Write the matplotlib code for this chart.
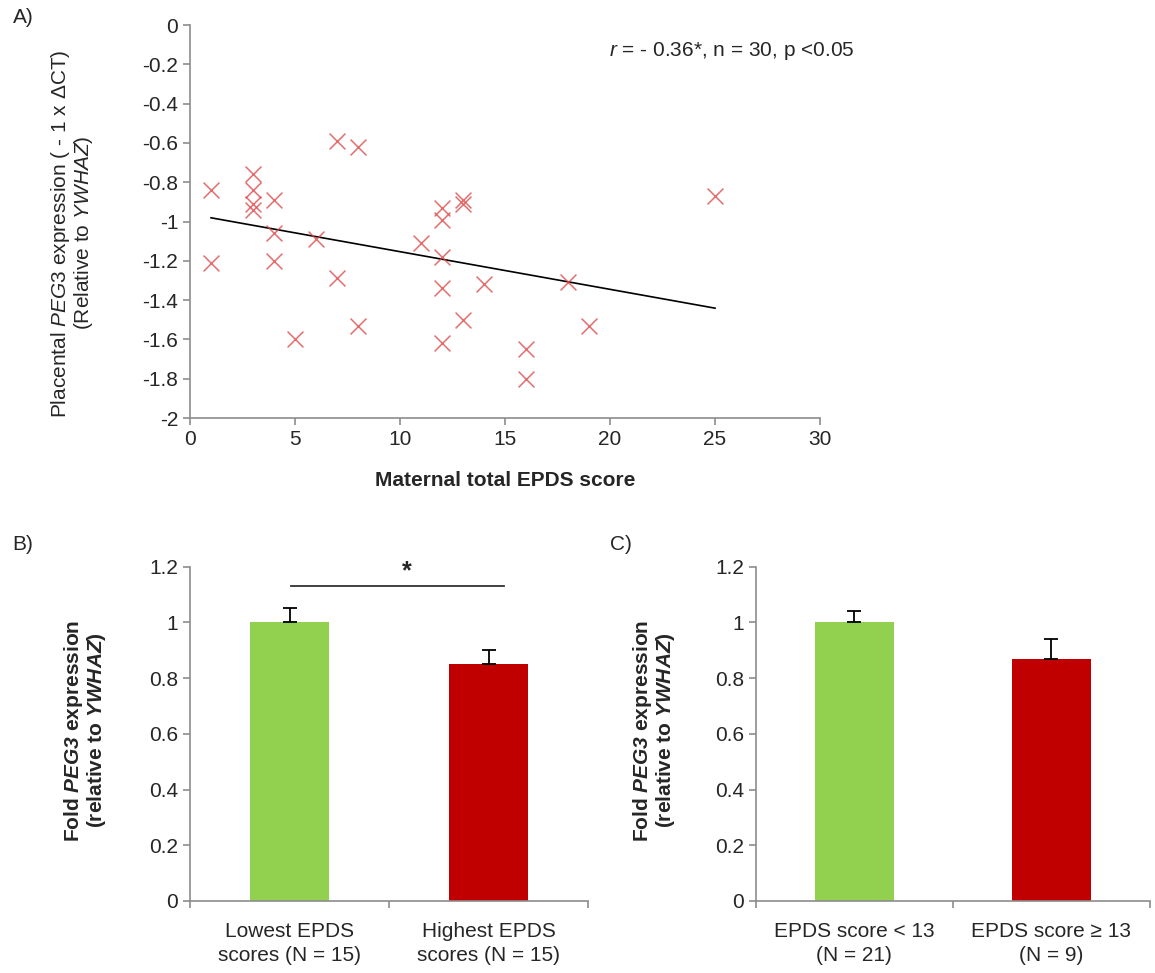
import matplotlib
matplotlib.use("Agg")
import matplotlib.pyplot as plt
import numpy as np

plt.rcParams["font.family"] = ["Liberation Sans", "DejaVu Sans"]
plt.rcParams["mathtext.fontset"] = "custom"
plt.rcParams["mathtext.rm"] = "Liberation Sans"
plt.rcParams["mathtext.it"] = "Liberation Sans:italic"
plt.rcParams["mathtext.bf"] = "Liberation Sans:bold"
plt.rcParams["mathtext.bfit"] = "Liberation Sans:bold:italic"

# Panel A: maternal EPDS score vs placental PEG3 expression
epds = [1, 1, 3, 3, 3, 3, 4, 4, 4, 5, 6, 7, 7, 8, 8,
        11, 12, 12, 12, 12, 12, 13, 13, 13, 14, 16, 16, 18, 19, 25]
peg3 = [-0.84, -1.21, -0.76, -0.84, -0.91, -0.94, -0.89, -1.06, -1.20, -1.60,
        -1.09, -0.59, -1.29, -0.62, -1.53, -1.11, -0.93, -0.99, -1.18, -1.34,
        -1.62, -0.89, -0.91, -1.50, -1.32, -1.65, -1.80, -1.31, -1.53, -0.87]

# Panel B: lowest vs highest EPDS scores
b_labels = ["Lowest EPDS\nscores (N = 15)", "Highest EPDS\nscores (N = 15)"]
b_values = [1.0, 0.85]
b_errors = [0.05, 0.05]

# Panel C: EPDS cut-off of 13
c_labels = ["EPDS score < 13\n(N = 21)", "EPDS score \u2265 13\n(N = 9)"]
c_values = [1.0, 0.87]
c_errors = [0.04, 0.07]

BAR_COLORS = ["#92D050", "#C00000"]
AXIS_GREY = "#8C8C8C"
TEXT = "#262626"
FS = 15


def style_axes(ax):
    for side in ["top", "right"]:
        ax.spines[side].set_visible(False)
    for side in ["left", "bottom"]:
        ax.spines[side].set_color(AXIS_GREY)
        ax.spines[side].set_linewidth(1.2)
    ax.tick_params(colors=AXIS_GREY, labelcolor=TEXT, labelsize=FS,
                   length=5, width=1.2, direction="out")


fig = plt.figure(figsize=(11.55, 9.73), dpi=100)

# ---- A ----
axA = fig.add_axes([0.1645, 0.5704, 0.5455, 0.4039])
axA.scatter(epds, peg3, marker="x", s=130, color="#E04848", alpha=0.8,
            linewidths=1.1, zorder=3)
slope, intercept = np.polyfit(epds, peg3, 1)
xs = np.array([min(epds), max(epds)])
axA.plot(xs, slope * xs + intercept, color="black", linewidth=1.2, zorder=2)
axA.set_xlim(0, 30)
axA.set_ylim(-2, 0)
axA.set_xticks(np.arange(0, 31, 5))
axA.set_yticks(np.arange(-2, 0.01, 0.2))
axA.set_yticklabels(["-2", "-1.8", "-1.6", "-1.4", "-1.2", "-1",
                     "-0.8", "-0.6", "-0.4", "-0.2", "0"])
style_axes(axA)
axA.set_xlabel("Maternal total EPDS score", fontsize=FS, fontweight="bold",
               color=TEXT)
axA.xaxis.set_label_coords(0.5, -0.135)
axA.set_ylabel("Placental $\\mathit{PEG3}$ expression ( - 1 x \u0394CT)\n"
               "(Relative to $\\mathit{YWHAZ}$)", fontsize=FS, color=TEXT,
               linespacing=1.0)
axA.yaxis.set_label_coords(-0.15, 0.47)
axA.text(0.665, 0.935, "$\\mathit{r}$ = - 0.36*, n = 30, p <0.05",
         transform=axA.transAxes, fontsize=FS, color=TEXT, va="center")


def bar_panel(rect, labels, values, errors, label_x):
    ax = fig.add_axes(rect)
    x = np.arange(len(values))
    ax.bar(x, values, width=0.4, color=BAR_COLORS, zorder=2)
    ax.errorbar(x, values, yerr=[np.zeros(len(errors)), errors], fmt="none",
                ecolor="black", elinewidth=1.3, capsize=5, capthick=1.3,
                zorder=3)
    ax.set_xlim(-0.5, len(values) - 0.5)
    ax.set_ylim(0, 1.2)
    ax.set_yticks(np.arange(0, 1.21, 0.2))
    ax.set_yticklabels(["0", "0.2", "0.4", "0.6", "0.8", "1", "1.2"])
    ax.set_xticks(x)
    ax.set_xticklabels(labels, fontsize=FS, linespacing=1.35)
    ax.set_xticks([-0.5, 0.5, 1.5], minor=True)
    style_axes(ax)
    ax.tick_params(axis="x", which="major", length=0, pad=15)
    ax.tick_params(axis="x", which="minor", length=5, width=1.2,
                   color=AXIS_GREY)
    ax.set_ylabel("Fold $\\mathbfit{PEG3}$ expression\n"
                  "(relative to $\\mathbfit{YWHAZ}$)", fontsize=FS,
                  fontweight="bold", color=TEXT, linespacing=1.0)
    ax.yaxis.set_label_coords(label_x, 0.51)
    return ax


axB = bar_panel([0.1645, 0.074, 0.3446, 0.3436], b_labels, b_values, b_errors,
                -0.205)
axB.plot([0.01, 1.08], [1.13, 1.13], color="#333333", linewidth=1.3)
axB.text(0.59, 1.185, "*", fontsize=18, fontweight="bold", ha="center",
         va="center", color=TEXT)

axC = bar_panel([0.6545, 0.074, 0.341, 0.3436], c_labels, c_values, c_errors,
                -0.20)

fig.text(0.011, 0.982, "A)", fontsize=FS, color=TEXT, va="center")
fig.text(0.011, 0.44, "B)", fontsize=FS, color=TEXT, va="center")
fig.text(0.528, 0.44, "C)", fontsize=FS, color=TEXT, va="center")

fig.savefig("out.png", dpi=100)
